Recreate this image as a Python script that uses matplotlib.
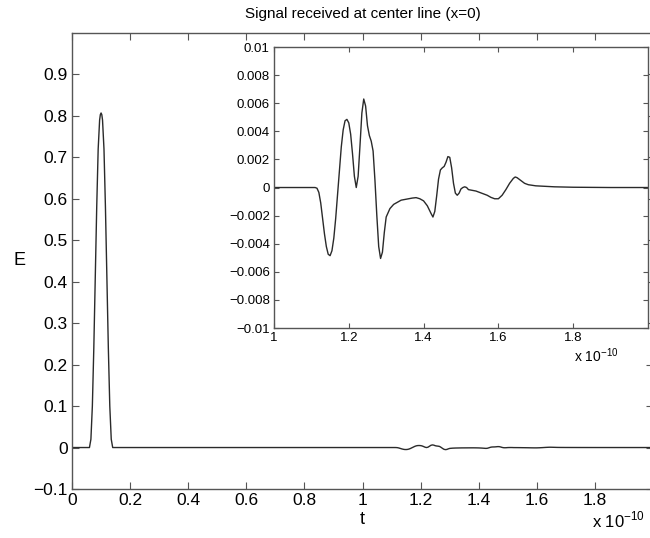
import numpy as np
import matplotlib
matplotlib.use("Agg")
import matplotlib.pyplot as plt

plt.rcParams['font.family'] = ['Liberation Sans', 'DejaVu Sans']
plt.rcParams['mathtext.fontset'] = 'custom'
plt.rcParams['mathtext.rm'] = 'Liberation Sans'

# time in units of 1e-10 s
pulse_t = [0.0, 0.060, 0.065, 0.070, 0.075, 0.080, 0.085, 0.090, 0.095, 0.0975,
           0.100, 0.1025, 0.105, 0.110, 0.115, 0.120, 0.125, 0.130, 0.135, 0.140]
pulse_E = [0.0, 0.0, 0.02, 0.10, 0.24, 0.41, 0.58, 0.72, 0.79, 0.803,
           0.807, 0.803, 0.79, 0.72, 0.58, 0.41, 0.24, 0.10, 0.02, 0.0]

# received echo, E in units of 1e-3
echo_t = [1.110, 1.115, 1.120, 1.125, 1.130, 1.135, 1.140, 1.145, 1.150, 1.155,
          1.160, 1.165, 1.170, 1.175, 1.180, 1.185, 1.190, 1.195, 1.200, 1.205,
          1.210, 1.215, 1.220, 1.225, 1.230, 1.235, 1.240, 1.245, 1.250, 1.255,
          1.260, 1.265, 1.270, 1.275, 1.280, 1.285, 1.290, 1.295, 1.300, 1.310,
          1.320, 1.330, 1.340, 1.350, 1.360, 1.370, 1.380, 1.390, 1.400, 1.410,
          1.420, 1.425, 1.430, 1.435, 1.440, 1.445, 1.450, 1.455, 1.460, 1.465,
          1.470, 1.475, 1.480, 1.485, 1.490, 1.495, 1.500, 1.505, 1.510, 1.515,
          1.520, 1.530, 1.540, 1.550, 1.560, 1.570, 1.580, 1.590, 1.600, 1.610,
          1.620, 1.630, 1.640, 1.645, 1.650, 1.660, 1.670, 1.680, 1.700, 1.750,
          1.800, 1.900, 2.000]
echo_E = [0.0, -0.05, -0.35, -1.1, -2.2, -3.3, -4.2, -4.75, -4.85, -4.5,
          -3.6, -2.2, -0.5, 1.2, 2.9, 4.1, 4.75, 4.85, 4.6, 3.8,
          2.4, 0.8, 0.0, 0.8, 3.0, 5.3, 6.3, 5.8, 4.4, 3.7,
          3.3, 2.6, 0.5, -2.0, -4.2, -5.05, -4.6, -3.2, -2.1, -1.5,
          -1.2, -1.05, -0.9, -0.85, -0.8, -0.75, -0.72, -0.8, -0.95, -1.3,
          -1.85, -2.1, -1.7, -0.6, 0.6, 1.25, 1.4, 1.5, 1.8, 2.2,
          2.15, 1.4, 0.3, -0.4, -0.55, -0.4, -0.1, 0.0, 0.05, 0.0,
          -0.15, -0.2, -0.25, -0.35, -0.45, -0.55, -0.7, -0.8, -0.8, -0.55,
          -0.15, 0.3, 0.65, 0.75, 0.7, 0.5, 0.3, 0.2, 0.12, 0.05,
          0.02, 0.0, 0.0]

main_xticks = [0, 0.2, 0.4, 0.6, 0.8, 1, 1.2, 1.4, 1.6, 1.8]
main_yticks = [-0.1, 0, 0.1, 0.2, 0.3, 0.4, 0.5, 0.6, 0.7, 0.8, 0.9]
inset_xticks = [1, 1.2, 1.4, 1.6, 1.8]
inset_yticks = [-0.01, -0.008, -0.006, -0.004, -0.002, 0, 0.002, 0.004, 0.006, 0.008, 0.01]

t = np.concatenate([pulse_t, echo_t])
E = np.concatenate([pulse_E, np.array(echo_E) * 1e-3])

spine_c = '#555555'
line_c = '#2a2a2a'

def fmt(v):
    s = ('%g' % round(v, 6))
    return s.replace('-', '\u2212')

def style(ax, size, ticklen):
    for s in ax.spines.values():
        s.set_color(spine_c)
        s.set_linewidth(1.0)
    ax.tick_params(direction='in', top=True, right=True, length=ticklen,
                   width=0.8, color=spine_c, labelsize=size, pad=3)

fig = plt.figure(figsize=(6.5, 5.38), dpi=100)

ax = fig.add_axes([0.1108, 0.0911, 0.894, 0.8476])
ax.plot(t, E, color=line_c, lw=1.0)
ax.set_xlim(0, 2)
ax.set_ylim(-0.1, 1.0)
ax.set_xticks(main_xticks)
ax.set_xticklabels([fmt(v) for v in main_xticks])
ax.set_yticks(main_yticks)
ax.set_yticklabels([fmt(v) for v in main_yticks])
style(ax, 12.5, 5)
ax.set_xlabel('t', fontsize=13, labelpad=2)
ax.set_ylabel('E', fontsize=13, labelpad=10, rotation=0, va='center')
ax.set_title('Signal received at center line (x=0)', fontsize=11, pad=11)
fig.text(0.91, 0.02, r'x 10$^{\mathregular{-10}}$', fontsize=12)

ins = fig.add_axes([0.4215, 0.3903, 0.5754, 0.5223])
ins.plot(t, E, color=line_c, lw=1.0)
ins.set_xlim(1, 2)
ins.set_ylim(-0.01, 0.01)
ins.set_xticks(inset_xticks)
ins.set_xticklabels([fmt(v) for v in inset_xticks])
ins.set_yticks(inset_yticks)
ins.set_yticklabels([fmt(v) for v in inset_yticks])
style(ins, 9.5, 3.5)
fig.text(0.883, 0.328, r'x 10$^{\mathregular{-10}}$', fontsize=10)

fig.savefig('out.png', dpi=100)
